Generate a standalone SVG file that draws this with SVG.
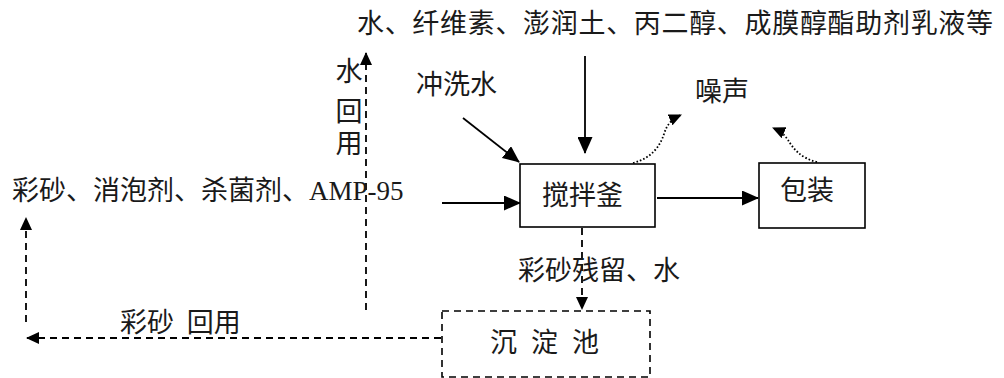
<svg xmlns="http://www.w3.org/2000/svg" width="1004" height="378" viewBox="0 0 1004 378">
<style>
text{font-family:"Liberation Serif","Noto Sans CJK SC",serif;fill:#1a1a1a;font-size:27px}
.box{fill:#fff;stroke:#000;stroke-width:1.6}
.dbox{fill:none;stroke:#000;stroke-width:1.6;stroke-dasharray:7 5}
.solid{fill:none;stroke:#000;stroke-width:1.8}
.dash{fill:none;stroke:#000;stroke-width:1.8;stroke-dasharray:7 5}
.dot{fill:none;stroke:#000;stroke-width:1.8;stroke-dasharray:1.6 2}
</style>
<defs>
<marker id="ah" markerUnits="userSpaceOnUse" markerWidth="17" markerHeight="15" refX="16" refY="7.5" orient="auto"><path d="M0,0 L17,7.5 L0,15 Z" fill="#000"/></marker>
<marker id="ahs" markerUnits="userSpaceOnUse" markerWidth="13" markerHeight="12" refX="12" refY="6" orient="auto"><path d="M0,0 L13,6 L0,12 Z" fill="#000"/></marker>
</defs>
<g id="connectors">
<line class="solid" x1="585" y1="56" x2="585" y2="153" marker-end="url(#ah)"/>
<line class="solid" x1="463" y1="118" x2="519" y2="162" marker-end="url(#ah)"/>
<line class="solid" x1="442" y1="203" x2="520" y2="203" marker-end="url(#ah)"/>
<line class="solid" x1="657" y1="198" x2="758" y2="198" marker-end="url(#ah)"/>
<path class="dot" d="M633,163 C652,158 660,146 664,134 C667,124 672,119 681,115" marker-end="url(#ahs)"/>
<path class="dot" d="M817,162 C800,158 793,148 788,140 C784,134 780,131 773,128" marker-end="url(#ahs)"/>
<line class="dash" x1="582" y1="228" x2="582" y2="309" marker-end="url(#ahs)"/>
<line class="dash" x1="441" y1="338" x2="27" y2="338" marker-end="url(#ahs)"/>
<line class="dash" x1="26" y1="322" x2="26" y2="218" marker-end="url(#ahs)"/>
<line class="dash" x1="366" y1="310" x2="366" y2="53" marker-end="url(#ahs)"/>
</g>
<g id="inputs-top"><text x="357" y="33" font-size="27.7" textLength="636" lengthAdjust="spacing">水、纤维素、澎润土、丙二醇、成膜醇酯助剂乳液等</text></g>
<g id="inputs-left"><text x="12" y="200" font-size="27.7">彩砂、消泡剂、杀菌剂、AMP-95</text></g>
<g id="wash-water"><text x="416" y="94">冲洗水</text></g>
<g id="noise"><text x="695" y="101" font-size="25">噪声</text></g>
<g id="water-reuse">
<text x="349" y="81" font-size="25" text-anchor="middle">水</text>
<text x="349" y="121" font-size="25" text-anchor="middle">回</text>
<text x="349" y="153" font-size="25" text-anchor="middle">用</text>
</g>
<g id="mixer"><rect class="box" x="520" y="164" width="135" height="63"/><text x="542" y="205">搅拌釜</text></g>
<g id="packing"><rect class="box" x="759" y="163" width="106" height="65"/><text x="780" y="200">包装</text></g>
<g id="residue-label"><text x="518" y="280">彩砂残留、水</text></g>
<g id="settling-tank"><rect class="dbox" x="442" y="311" width="208" height="66"/><text x="490" y="352">沉<tspan dx="14">淀</tspan><tspan dx="14">池</tspan></text></g>
<g id="sand-reuse"><text x="120" y="332">彩砂 <tspan dx="6">回用</tspan></text></g>
</svg>
